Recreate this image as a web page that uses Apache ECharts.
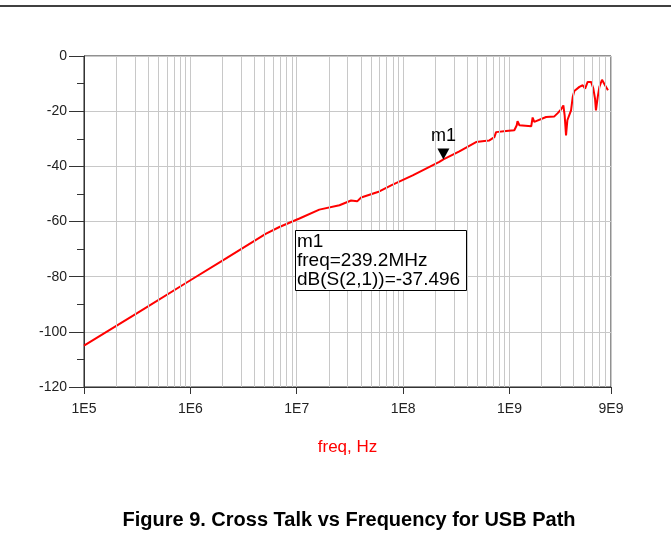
<!DOCTYPE html>
<html>
<head>
<meta charset="utf-8">
<script src="https://cdn.jsdelivr.net/npm/echarts@6/dist/echarts.min.js"></script>
<style>
  html, body { margin: 0; padding: 0; background: #fff; }
  #chart { width: 671px; height: 543px; }
</style>
</head>
<body>
<div id="chart"></div>
<script>
// S(2,1) cross talk
const freqHz = [
  1e5, 3.16e5, 1e6, 2.02e6, 5.15e6, 6.87e6, 1.06e7, 1.63e7, 2.52e7, 3.24e7,
  3.7e7, 4.03e7, 5.98e7, 7.71e7, 1.23e8, 2.19e8, 2.392e8, 3.38e8, 4.85e8, 5.81e8,
  6.47e8, 7.21e8, 7.48e8, 9.29e8, 1.11e9, 1.17e9, 1.19e9, 1.24e9, 1.29e9, 1.6e9,
  1.65e9, 1.71e9, 2.21e9, 2.64e9, 2.84e9, 3.05e9, 3.21e9, 3.3e9, 3.4e9, 3.5e9,
  3.79e9, 3.93e9, 4.07e9, 4.54e9, 4.88e9, 5.14e9, 5.43e9, 5.85e9, 6.14e9, 6.37e9,
  6.5e9, 6.75e9, 7.0e9, 7.41e9, 7.62e9, 7.91e9, 8.07e9, 8.43e9
];
const s21dB = [
  -105.0, -93.2, -81.3, -74.1, -64.4, -62.0, -58.9, -55.7, -54.1, -52.4,
  -52.7, -51.3, -49.1, -46.9, -43.3, -38.4, -37.5, -34.6, -31.2, -30.8,
  -30.6, -29.4, -27.6, -27.2, -26.9, -25.1, -23.6, -25.1, -25.7, -25.5,
  -22.3, -23.9, -22.1, -21.9, -20.7, -19.4, -17.9, -21.5, -28.8, -23.3,
  -19.7, -14.9, -12.7, -11.2, -10.6, -11.8, -9.4, -9.4, -11.8, -15.5,
  -19.7, -14.9, -11.2, -8.6, -8.2, -10.6, -10.0, -12.4
];
const xLabelValues = [1e5, 1e6, 1e7, 1e8, 1e9, 9e9];
const decades = [1e5, 1e6, 1e7, 1e8, 1e9];
const minorSteps = [2, 3, 4, 5, 6, 7, 8, 9];
const markerName = 'm1';
const markerFreq = 239.2e6;
const markerDb = -37.496;

const FONT = '"Liberation Sans", Arial, sans-serif';

const minorGrid = [];
decades.forEach(d => minorSteps.forEach(m => {
  if (m * d < 9e9) minorGrid.push({ xAxis: m * d });
}));

function fmtE(v) {
  const e = Math.floor(Math.log10(v) + 1e-9);
  return Math.round(v / Math.pow(10, e)) + 'E' + e;
}

const chart = echarts.init(document.getElementById('chart'), null, { renderer: 'canvas' });

chart.setOption({
  animation: false,
  backgroundColor: '#fff',
  grid: { left: 84, top: 56, width: 527, height: 331, show: true, borderColor: '#222', borderWidth: 1 },
  xAxis: {
    type: 'log',
    logBase: 10,
    min: 1e5,
    max: 9e9,
    axisLine: { onZero: false, lineStyle: { color: '#333' } },
    axisTick: { customValues: xLabelValues, length: 7, lineStyle: { color: '#333' } },
    axisLabel: { customValues: xLabelValues, formatter: fmtE, fontSize: 14, color: '#222', margin: 15, fontFamily: FONT },
    splitLine: { show: true, lineStyle: { color: '#c8c8c8' } },
    name: 'freq, Hz',
    nameLocation: 'middle',
    nameGap: 52,
    nameTextStyle: { color: '#ff0000', fontSize: 17, fontFamily: FONT }
  },
  yAxis: {
    type: 'value',
    min: -120,
    max: 0,
    interval: 20,
    axisLine: { show: true, onZero: false, lineStyle: { color: '#333' } },
    axisTick: { show: true, length: 15, lineStyle: { color: '#333' } },
    minorTick: { show: true, splitNumber: 2, length: 7, lineStyle: { color: '#333' } },
    axisLabel: { fontSize: 14, color: '#222', margin: 17, fontFamily: FONT },
    splitLine: { show: true, lineStyle: { color: '#c8c8c8' } }
  },
  series: [
    {
      type: 'line',
      data: [],
      silent: true,
      z: 1,
      markLine: {
        silent: true,
        symbol: 'none',
        label: { show: false },
        lineStyle: { color: '#c8c8c8', width: 1, type: 'solid' },
        data: minorGrid
      }
    },
    {
      name: 'dB(S(2,1))',
      type: 'line',
      z: 3,
      showSymbol: false,
      lineStyle: { color: '#ff0000', width: 2 },
      data: freqHz.map((f, i) => [f, s21dB[i]]),
      markPoint: {
        symbol: 'triangle',
        symbolRotate: 180,
        symbolSize: [12, 11],
        symbolOffset: [0, -5.5],
        itemStyle: { color: '#000' },
        label: { show: true, position: 'top', distance: 3, formatter: markerName, color: '#000', fontSize: 18, fontFamily: FONT },
        data: [{ coord: [markerFreq, markerDb] }]
      }
    }
  ],
  graphic: [
    { type: 'line', shape: { x1: 0, y1: 6, x2: 671, y2: 6 }, style: { stroke: '#000', lineWidth: 1.5 } },
    { type: 'rect', shape: { x: 295.5, y: 230.5, width: 171, height: 60 }, style: { fill: '#fff', stroke: '#000', lineWidth: 1 }, z: 10 },
    {
      type: 'text', left: 297, top: 232, z: 11,
      style: {
        text: markerName + '\nfreq=' + (markerFreq / 1e6).toFixed(1) + 'MHz\ndB(S(2,1))=' + markerDb.toFixed(3),
        fill: '#000', font: '19px ' + FONT, lineHeight: 19
      }
    },
    {
      type: 'text', x: 349, y: 520, z: 11,
      style: {
        text: 'Figure 9. Cross Talk vs Frequency for USB Path', fill: '#000',
        font: 'bold 20px ' + FONT, textAlign: 'center', textVerticalAlign: 'middle'
      }
    }
  ]
});
</script>
</body>
</html>
